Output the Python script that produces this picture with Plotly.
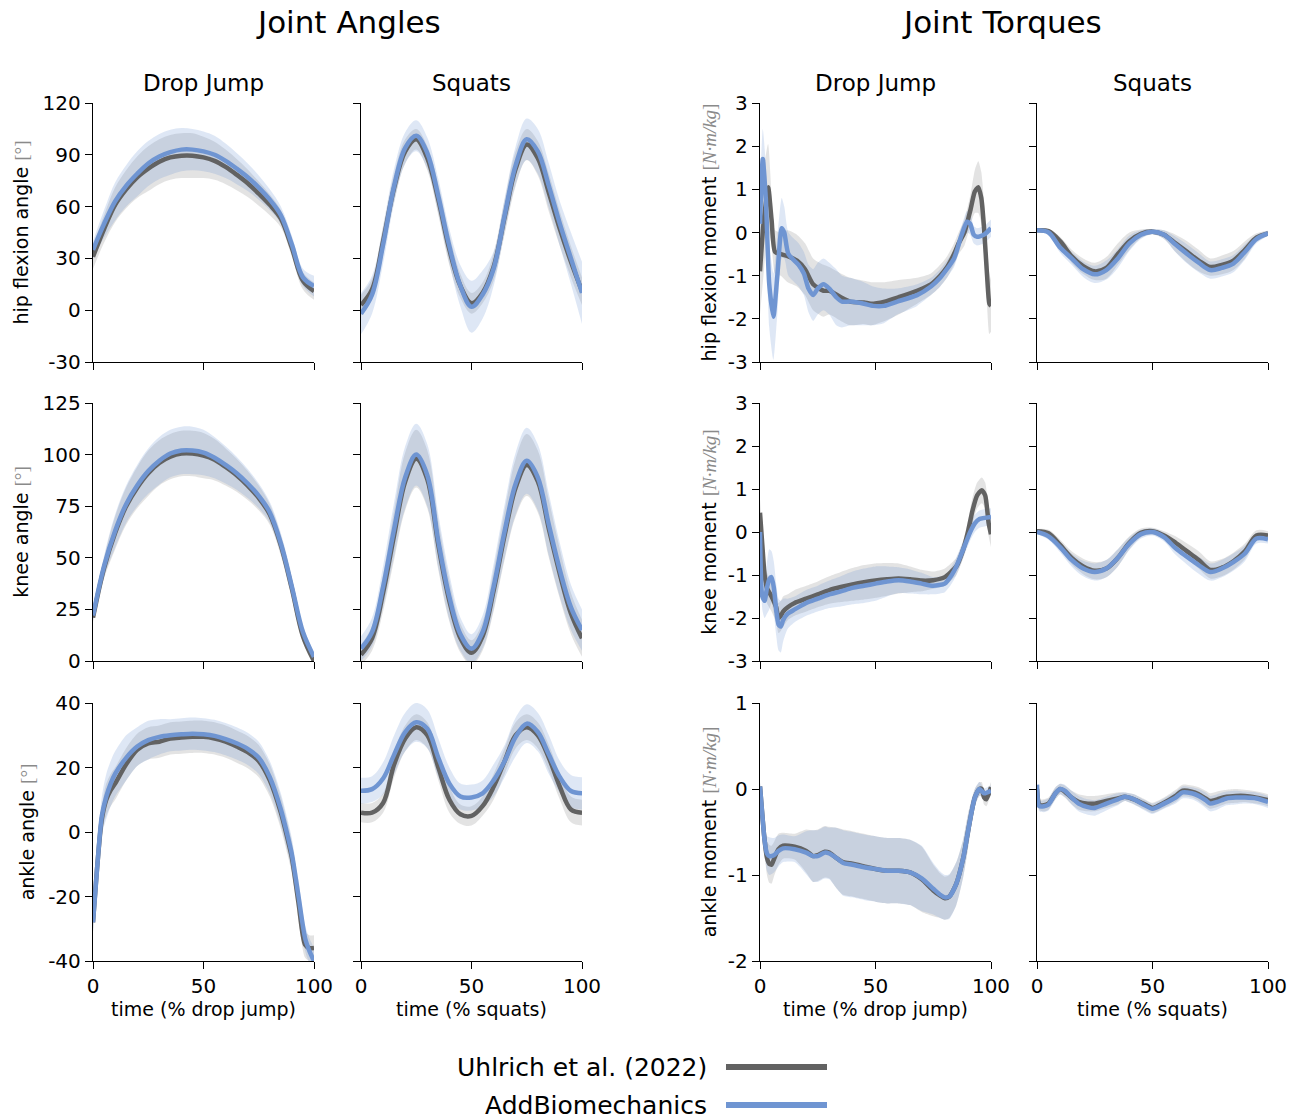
import plotly.graph_objects as go
from plotly.subplots import make_subplots

# ---------------- data ----------------
X5 = [0, 5, 10, 15, 20, 25, 30, 35, 40, 45, 50, 55, 60, 65, 70, 75, 80, 85, 90, 95, 100]

# Joint angles - hip flexion, drop jump
HIP_DJ_UHL = [31, 47, 61, 70, 77, 82, 86, 88.5, 89.5, 89.5, 88.5, 86.5, 83, 78.5, 73.5, 67.5, 61, 53, 36, 17, 11]
HIP_DJ_UHL_SD = [7, 8, 10, 11, 12, 13, 13, 13, 13, 13, 12, 11, 10, 9, 8, 7, 6, 5, 5, 5, 5]
HIP_DJ_ADD = [35, 50, 63, 72, 79, 85, 89, 91.5, 93, 93, 92, 90, 86.5, 82, 77, 71, 64, 55, 38, 19, 14]
HIP_DJ_ADD_SD = [5, 8, 11, 12, 13, 13, 13, 13, 12.5, 12, 11.5, 11, 10, 9, 8, 7, 6, 5, 5, 5, 6]

# hip flexion, squats
HIP_SQ_UHL = [3, 12, 40, 71, 92, 99, 88, 64, 35, 14, 4, 10, 25, 54, 82, 96, 88, 68, 47, 28, 11]
HIP_SQ_UHL_SD = [6, 6, 8, 8, 7, 6, 7, 9, 9, 7, 6, 6, 8, 10, 10, 9, 10, 11, 10, 9, 8]
HIP_SQ_ADD = [-2, 9, 38, 72, 94, 101, 91, 66, 37, 14, 2, 9, 24, 55, 84, 99, 92, 72, 50, 30, 10]
HIP_SQ_ADD_SD = [12, 11, 11, 10, 9, 9, 9, 10, 10, 12, 15, 14, 10, 10, 11, 12, 13, 13, 13, 15, 18]

# knee, drop jump
KNEE_DJ_UHL = [21, 45, 62, 75, 84, 91, 96, 99, 100.5, 100.5, 99.5, 97.5, 94, 90, 85, 79, 71, 56, 35, 12, 0]
KNEE_DJ_UHL_SD = [2, 5, 8, 9, 10, 11, 11, 11, 11, 11, 11, 10, 9, 8, 7, 6, 5, 5, 5, 3, 2]
KNEE_DJ_ADD = [22, 46, 63, 76, 85, 92, 97, 100.5, 102, 102, 101, 98.5, 95, 91, 86, 80, 72, 57, 36, 14, 2]
KNEE_DJ_ADD_SD = [2, 5, 8, 9, 10, 11, 11.5, 11.5, 11.5, 11.5, 11, 10, 9, 8, 7, 6, 5, 5, 5, 3, 2]

# knee, squats
KNEE_SQ_UHL = [3, 11, 33, 61, 87, 98, 88, 56, 29, 11, 4, 12, 34, 61, 84, 95, 87, 64, 42, 23, 11]
KNEE_SQ_UHL_SD = [5, 6, 9, 12, 14, 14, 14, 12, 10, 7, 6, 7, 10, 12, 14, 15, 15, 14, 12, 10, 9]
KNEE_SQ_ADD = [6, 14, 36, 64, 89, 100, 90, 58, 31, 13, 6, 14, 36, 63, 86, 97, 89, 66, 44, 26, 15]
KNEE_SQ_ADD_SD = [6, 7, 10, 13, 15, 15, 15, 13, 11, 8, 7, 8, 11, 13, 15, 16, 16, 15, 13, 11, 10]

# ankle, drop jump
ANK_DJ_X = [0, 2, 4, 6, 8, 10, 15, 20, 25, 30, 35, 40, 45, 50, 55, 60, 65, 70, 75, 80, 85, 88, 90, 93, 96, 98, 100]
ANK_DJ_UHL = [-28, -10, 4, 10, 13, 15, 21, 25.5, 27.5, 28, 29, 29.3, 29.5, 29.5, 29, 28, 26.5, 24.8, 22, 16, 6, -2, -8, -22, -35, -36, -36]
ANK_DJ_UHL_SD = [3, 4, 4, 5, 5, 5, 5, 5, 5, 5, 5, 5, 5, 5, 5, 5, 5, 5, 5, 5, 5, 5, 5, 5, 4, 4, 4]
ANK_DJ_ADD = [-28, -10, 5, 11, 15, 18, 23, 26.5, 28.5, 29.5, 30, 30.3, 30.5, 30.3, 29.8, 28.8, 27.5, 25.8, 23, 17, 7, -1, -7, -20, -33, -37, -40]
ANK_DJ_ADD_SD = [3, 5, 6, 7, 7, 7, 7, 6, 6, 5.5, 5, 5, 5, 5, 5, 5, 5, 5, 5, 5, 5, 5, 5, 5, 4, 4, 4]

# ankle, squats
ANK_SQ_UHL = [6, 6, 9, 21, 29, 32.5, 30, 20, 10, 5.5, 5, 8, 14, 22, 30, 32.5, 30, 23, 14, 7, 6]
ANK_SQ_UHL_SD = [3, 3, 3, 4, 4, 4, 4, 4, 4, 3, 3, 3, 4, 4, 4, 4, 4, 4, 4, 4, 4]
ANK_SQ_ADD = [12.8, 13.3, 16.6, 24, 31, 34, 32, 23, 15, 11, 10.7, 12, 16, 22, 29.5, 33.6, 31, 24, 17, 12.7, 12]
ANK_SQ_ADD_SD = [4, 4, 5, 6, 6, 6, 6, 6, 5, 4, 4, 4, 5, 5, 6, 6, 6, 6, 5, 5, 5]

# Joint torques - hip flexion moment, drop jump
HIPM_DJ_UHL_X = [0, 1.5, 3.5, 5, 6.5, 9, 12, 16, 19.5, 23, 27.5, 30, 35, 39, 45, 48, 54, 60, 68, 74, 78, 81, 84, 86, 88.5, 91, 93, 94.5, 95.8, 97, 98.3, 99.3, 100]
HIPM_DJ_UHL = [-0.9, 0.2, 1.05, 0.3, -0.45, -0.5, -0.55, -0.65, -0.85, -1.2, -1.35, -1.35, -1.5, -1.6, -1.62, -1.65, -1.6, -1.5, -1.35, -1.2, -1.0, -0.8, -0.5, -0.25, 0.0, 0.5, 0.95, 1.05, 0.8, 0.1, -1.0, -1.65, -1.7]
HIPM_DJ_UHL_SD = [1.0, 1.2, 1.0, 0.6, 0.5, 0.5, 0.6, 0.6, 0.6, 0.6, 0.6, 0.55, 0.55, 0.55, 0.5, 0.5, 0.45, 0.4, 0.3, 0.25, 0.25, 0.25, 0.25, 0.25, 0.3, 0.35, 0.5, 0.6, 0.6, 0.6, 0.7, 0.7, 0.6]
HIPM_DJ_ADD_X = [0, 1.2, 2.5, 4, 5.8, 7.5, 9.4, 10.5, 12.3, 16.7, 19, 21, 23, 25, 27.5, 30, 33, 35.5, 39, 45, 49, 53.6, 59.4, 68, 74, 78, 84, 87, 89.6, 91, 92.5, 94, 97, 100]
HIPM_DJ_ADD = [0.2, 1.7, 0.8, -1.2, -1.95, -1.0, 0.1, 0.0, -0.5, -0.75, -0.95, -1.3, -1.45, -1.3, -1.2, -1.3, -1.5, -1.6, -1.6, -1.65, -1.7, -1.7, -1.6, -1.45, -1.25, -1.05, -0.6, -0.1, 0.25, 0.2, -0.05, -0.1, -0.05, 0.1]
HIPM_DJ_ADD_SD = [0.8, 0.7, 0.8, 1.0, 1.0, 0.9, 0.7, 0.6, 0.5, 0.5, 0.5, 0.55, 0.6, 0.6, 0.6, 0.6, 0.65, 0.6, 0.55, 0.5, 0.45, 0.4, 0.3, 0.25, 0.2, 0.2, 0.2, 0.2, 0.25, 0.25, 0.2, 0.2, 0.2, 0.2]

# hip flexion moment, squats
HIPM_SQ_UHL = [0.05, 0.03, -0.2, -0.55, -0.78, -0.9, -0.82, -0.5, -0.2, -0.03, 0.02, -0.05, -0.25, -0.45, -0.65, -0.8, -0.75, -0.65, -0.4, -0.12, -0.02]
HIPM_SQ_UHL_SD = [0.03, 0.05, 0.1, 0.15, 0.18, 0.2, 0.25, 0.25, 0.2, 0.1, 0.06, 0.1, 0.2, 0.25, 0.25, 0.2, 0.22, 0.22, 0.2, 0.1, 0.06]
HIPM_SQ_ADD = [0.05, 0.0, -0.35, -0.6, -0.85, -0.97, -0.87, -0.6, -0.25, -0.05, 0.02, -0.05, -0.28, -0.5, -0.7, -0.87, -0.82, -0.72, -0.45, -0.15, -0.02]
HIPM_SQ_ADD_SD = [0.03, 0.05, 0.12, 0.15, 0.18, 0.2, 0.22, 0.22, 0.18, 0.1, 0.06, 0.1, 0.18, 0.22, 0.22, 0.2, 0.2, 0.2, 0.18, 0.1, 0.06]

# knee moment, drop jump
KNEEM_DJ_UHL_X = [0, 1, 2, 3, 5, 7, 8, 9, 10, 12, 15, 20, 25, 30, 35, 40, 45, 50, 55, 60, 65, 70, 75, 80, 85, 88, 90, 92, 94, 96, 97.5, 99, 100]
KNEEM_DJ_UHL = [0.45, -0.3, -1.0, -1.3, -1.5, -1.75, -2.0, -1.95, -1.85, -1.75, -1.65, -1.55, -1.45, -1.35, -1.28, -1.22, -1.17, -1.13, -1.1, -1.08, -1.1, -1.13, -1.12, -1.05, -0.8, -0.4, 0.0, 0.5, 0.85, 0.97, 0.85, 0.2, -0.05]
KNEEM_DJ_UHL_SD = [0.3, 0.35, 0.35, 0.35, 0.35, 0.35, 0.35, 0.35, 0.35, 0.3, 0.3, 0.3, 0.3, 0.32, 0.35, 0.38, 0.4, 0.4, 0.38, 0.35, 0.3, 0.25, 0.2, 0.2, 0.2, 0.2, 0.25, 0.3, 0.3, 0.3, 0.3, 0.3, 0.3]
KNEEM_DJ_ADD_X = [0, 1, 2, 3, 4, 5, 6, 7, 8, 9, 10, 12, 15, 20, 25, 30, 35, 40, 45, 50, 55, 60, 65, 70, 75, 80, 83, 85, 88, 91, 93, 95, 100]
KNEEM_DJ_ADD = [0.0, -1.5, -1.6, -1.3, -1.1, -1.05, -1.3, -1.8, -2.15, -2.2, -2.05, -1.9, -1.8, -1.65, -1.55, -1.45, -1.38, -1.3, -1.25, -1.2, -1.15, -1.12, -1.15, -1.2, -1.25, -1.2, -1.0, -0.8, -0.4, 0.0, 0.2, 0.3, 0.35]
KNEEM_DJ_ADD_SD = [0.3, 0.3, 0.4, 0.6, 0.7, 0.6, 0.6, 0.6, 0.6, 0.6, 0.5, 0.35, 0.3, 0.3, 0.3, 0.32, 0.35, 0.38, 0.4, 0.4, 0.35, 0.3, 0.28, 0.25, 0.2, 0.2, 0.2, 0.2, 0.2, 0.2, 0.2, 0.2, 0.2]

# knee moment, squats
KNEEM_SQ_UHL = [0.02, -0.03, -0.3, -0.6, -0.8, -0.9, -0.85, -0.6, -0.25, -0.02, 0.02, -0.08, -0.25, -0.45, -0.65, -0.88, -0.83, -0.68, -0.45, -0.08, -0.08]
KNEEM_SQ_UHL_SD = [0.05, 0.08, 0.12, 0.15, 0.18, 0.2, 0.2, 0.2, 0.15, 0.1, 0.08, 0.1, 0.15, 0.18, 0.2, 0.2, 0.2, 0.2, 0.18, 0.12, 0.1]
KNEEM_SQ_ADD = [0.0, -0.1, -0.35, -0.65, -0.85, -0.93, -0.85, -0.6, -0.27, -0.05, 0.0, -0.12, -0.38, -0.58, -0.77, -0.93, -0.85, -0.7, -0.5, -0.15, -0.17]
KNEEM_SQ_ADD_SD = [0.05, 0.08, 0.12, 0.15, 0.18, 0.2, 0.2, 0.2, 0.15, 0.1, 0.08, 0.1, 0.15, 0.18, 0.2, 0.2, 0.2, 0.2, 0.18, 0.12, 0.1]

# ankle moment, drop jump
ANKM_DJ_UHL_X = [0, 1, 2, 3, 4, 5, 6, 8, 10, 15, 20, 23, 25, 28, 30, 33, 36, 40, 45, 50, 55, 60, 65, 70, 75, 78, 80, 82, 85, 88, 90, 93, 95, 96, 97, 98, 100]
ANKM_DJ_UHL = [0.03, -0.3, -0.6, -0.8, -0.87, -0.88, -0.82, -0.7, -0.66, -0.67, -0.72, -0.78, -0.77, -0.73, -0.74, -0.8, -0.85, -0.87, -0.9, -0.93, -0.95, -0.95, -0.97, -1.05, -1.18, -1.24, -1.27, -1.25, -1.1, -0.8, -0.5, -0.1, 0.0, 0.0, -0.1, -0.12, 0.02]
ANKM_DJ_UHL_SD = [0.05, 0.1, 0.15, 0.2, 0.22, 0.22, 0.2, 0.18, 0.15, 0.15, 0.25, 0.3, 0.3, 0.3, 0.3, 0.35, 0.38, 0.38, 0.38, 0.38, 0.38, 0.38, 0.38, 0.38, 0.3, 0.26, 0.25, 0.25, 0.25, 0.22, 0.2, 0.1, 0.08, 0.08, 0.08, 0.08, 0.06]
ANKM_DJ_ADD_X = [0, 1, 2, 3, 4, 6, 8, 10, 15, 20, 23, 25, 28, 30, 33, 36, 40, 45, 50, 55, 60, 65, 70, 75, 78, 80, 82, 85, 88, 90, 93, 95, 97, 100]
ANKM_DJ_ADD = [0.03, -0.3, -0.6, -0.75, -0.78, -0.77, -0.72, -0.69, -0.7, -0.74, -0.78, -0.78, -0.74, -0.75, -0.8, -0.86, -0.88, -0.91, -0.93, -0.95, -0.95, -0.97, -1.04, -1.16, -1.23, -1.26, -1.25, -1.1, -0.8, -0.5, -0.1, 0.0, -0.05, -0.02]
ANKM_DJ_ADD_SD = [0.05, 0.1, 0.15, 0.2, 0.22, 0.2, 0.18, 0.16, 0.15, 0.25, 0.3, 0.3, 0.3, 0.3, 0.35, 0.38, 0.38, 0.38, 0.38, 0.38, 0.38, 0.38, 0.38, 0.3, 0.27, 0.26, 0.26, 0.25, 0.22, 0.2, 0.1, 0.08, 0.06, 0.06]

# ankle moment, squats
ANKM_SQ_X = [0, 1, 3, 5, 8, 10, 12, 15, 18, 22, 25, 30, 35, 38, 42, 46, 50, 55, 60, 63, 67, 70, 73, 75, 78, 82, 86, 90, 95, 100]
ANKM_SQ_UHL = [0.0, -0.18, -0.19, -0.17, -0.05, 0.0, -0.03, -0.1, -0.15, -0.17, -0.17, -0.14, -0.11, -0.09, -0.12, -0.17, -0.22, -0.16, -0.08, -0.02, -0.03, -0.06, -0.11, -0.14, -0.12, -0.09, -0.08, -0.08, -0.1, -0.13]
ANKM_SQ_UHL_SD = [0.04, 0.06, 0.07, 0.07, 0.07, 0.06, 0.07, 0.08, 0.09, 0.09, 0.09, 0.08, 0.07, 0.05, 0.06, 0.06, 0.06, 0.06, 0.07, 0.07, 0.07, 0.08, 0.09, 0.09, 0.09, 0.08, 0.08, 0.07, 0.07, 0.07]
ANKM_SQ_ADD = [0.05, -0.2, -0.2, -0.18, -0.05, 0.0, -0.02, -0.1, -0.17, -0.21, -0.22, -0.17, -0.12, -0.09, -0.12, -0.18, -0.23, -0.17, -0.1, -0.04, -0.05, -0.08, -0.13, -0.17, -0.15, -0.11, -0.1, -0.1, -0.11, -0.15]
ANKM_SQ_ADD_SD = [0.04, 0.06, 0.07, 0.07, 0.07, 0.06, 0.07, 0.08, 0.09, 0.09, 0.09, 0.08, 0.07, 0.05, 0.06, 0.06, 0.06, 0.06, 0.07, 0.07, 0.07, 0.08, 0.09, 0.09, 0.09, 0.08, 0.08, 0.07, 0.07, 0.07]

SERIES_NAMES = ["Uhlrich et al. (2022)", "AddBiomechanics"]

ANGLE_TICKS = [[-30, 0, 30, 60, 90, 120], [0, 25, 50, 75, 100, 125], [-40, -20, 0, 20, 40]]
TORQUE_TICKS = [[-3, -2, -1, 0, 1, 2, 3], [-3, -2, -1, 0, 1, 2, 3], [-2, -1, 0, 1]]
X_TICKS = [0, 50, 100]

# ---------------- style ----------------
GRAY = "#626262"
BLUE = "#6f95d2"
GRAY_FILL = "rgba(128,128,128,0.22)"
BLUE_FILL = "rgba(100,140,210,0.21)"
FONT = "DejaVu Sans"
UNIT = "<span style='color:#8a8a8a;font-family:Liberation Serif'>"

W, H = 1303, 1120
COLS_PX = [(93, 314), (361, 582), (760, 991), (1037, 1268)]
ROWS_PX = [(103, 362), (403, 661), (703, 961)]


def px_x(p):
    return p / W


def px_y(p):
    return 1 - p / H


panels = [
    # row, col, uhl_x, uhl, uhl_sd, add_x, add, add_sd, smoothing
    (1, 1, X5, HIP_DJ_UHL, HIP_DJ_UHL_SD, X5, HIP_DJ_ADD, HIP_DJ_ADD_SD, 1.0),
    (1, 2, X5, HIP_SQ_UHL, HIP_SQ_UHL_SD, X5, HIP_SQ_ADD, HIP_SQ_ADD_SD, 1.0),
    (2, 1, X5, KNEE_DJ_UHL, KNEE_DJ_UHL_SD, X5, KNEE_DJ_ADD, KNEE_DJ_ADD_SD, 1.0),
    (2, 2, X5, KNEE_SQ_UHL, KNEE_SQ_UHL_SD, X5, KNEE_SQ_ADD, KNEE_SQ_ADD_SD, 1.0),
    (3, 1, ANK_DJ_X, ANK_DJ_UHL, ANK_DJ_UHL_SD, ANK_DJ_X, ANK_DJ_ADD, ANK_DJ_ADD_SD, 0.8),
    (3, 2, X5, ANK_SQ_UHL, ANK_SQ_UHL_SD, X5, ANK_SQ_ADD, ANK_SQ_ADD_SD, 1.0),
    (1, 3, HIPM_DJ_UHL_X, HIPM_DJ_UHL, HIPM_DJ_UHL_SD, HIPM_DJ_ADD_X, HIPM_DJ_ADD, HIPM_DJ_ADD_SD, 0.6),
    (1, 4, X5, HIPM_SQ_UHL, HIPM_SQ_UHL_SD, X5, HIPM_SQ_ADD, HIPM_SQ_ADD_SD, 0.9),
    (2, 3, KNEEM_DJ_UHL_X, KNEEM_DJ_UHL, KNEEM_DJ_UHL_SD, KNEEM_DJ_ADD_X, KNEEM_DJ_ADD, KNEEM_DJ_ADD_SD, 0.6),
    (2, 4, X5, KNEEM_SQ_UHL, KNEEM_SQ_UHL_SD, X5, KNEEM_SQ_ADD, KNEEM_SQ_ADD_SD, 0.9),
    (3, 3, ANKM_DJ_UHL_X, ANKM_DJ_UHL, ANKM_DJ_UHL_SD, ANKM_DJ_ADD_X, ANKM_DJ_ADD, ANKM_DJ_ADD_SD, 0.6),
    (3, 4, ANKM_SQ_X, ANKM_SQ_UHL, ANKM_SQ_UHL_SD, ANKM_SQ_X, ANKM_SQ_ADD, ANKM_SQ_ADD_SD, 0.6),
]

fig = make_subplots(rows=3, cols=4)


def band(x, m, s, color, r, c, sm):
    up = [a + b for a, b in zip(m, s)]
    lo = [a - b for a, b in zip(m, s)]
    fig.add_trace(go.Scatter(x=x, y=up, mode="lines", line=dict(width=0, shape="spline", smoothing=sm),
                             hoverinfo="skip", showlegend=False), row=r, col=c)
    fig.add_trace(go.Scatter(x=x, y=lo, mode="lines", line=dict(width=0, shape="spline", smoothing=sm),
                             fill="tonexty", fillcolor=color, hoverinfo="skip", showlegend=False), row=r, col=c)


for (r, c, ux, u, us, ax, a, asd, sm) in panels:
    band(ux, u, us, GRAY_FILL, r, c, sm)
    band(ax, a, asd, BLUE_FILL, r, c, sm)
    fig.add_trace(go.Scatter(x=ux, y=u, mode="lines", name=SERIES_NAMES[0],
                             line=dict(color=GRAY, width=4.5, shape="spline", smoothing=sm),
                             showlegend=False), row=r, col=c)
    fig.add_trace(go.Scatter(x=ax, y=a, mode="lines", name=SERIES_NAMES[1],
                             line=dict(color=BLUE, width=4.5, shape="spline", smoothing=sm),
                             showlegend=False), row=r, col=c)


def fmt(v):
    return str(v).replace("\u2212", "-")


ytitles = {
    (1, 1): "hip flexion angle " + UNIT + "[°]</span>",
    (2, 1): "knee angle " + UNIT + "[°]</span>",
    (3, 1): "ankle angle " + UNIT + "[°]</span>",
    (1, 3): "hip flexion moment " + UNIT + "[<i>N·m/kg</i>]</span>",
    (2, 3): "knee moment " + UNIT + "[<i>N·m/kg</i>]</span>",
    (3, 3): "ankle moment " + UNIT + "[<i>N·m/kg</i>]</span>",
}
xtitles = {1: "time (% drop jump)", 2: "time (% squats)", 3: "time (% drop jump)", 4: "time (% squats)"}

axis_common = dict(showgrid=False, zeroline=False, showline=True, linecolor="black", linewidth=1.4,
                   ticks="outside", ticklen=7, tickwidth=1.4, tickcolor="black", automargin=False,
                   tickfont=dict(family=FONT, size=20, color="black"))

for r in range(1, 4):
    for c in range(1, 5):
        x0, x1 = COLS_PX[c - 1]
        y0, y1 = ROWS_PX[r - 1]
        ticks = ANGLE_TICKS[r - 1] if c <= 2 else TORQUE_TICKS[r - 1]
        fig.update_xaxes(row=r, col=c, domain=[px_x(x0), px_x(x1)], range=[0, 100],
                         tickvals=X_TICKS, ticktext=[fmt(v) for v in X_TICKS],
                         showticklabels=(r == 3),
                         title=dict(text=xtitles[c] if r == 3 else "", standoff=4,
                                    font=dict(family=FONT, size=19, color="black")),
                         **axis_common)
        fig.update_yaxes(row=r, col=c, domain=[px_y(y1), px_y(y0)], range=[ticks[0], ticks[-1]],
                         tickvals=ticks, ticktext=[fmt(v) for v in ticks],
                         showticklabels=(c in (1, 3)),
                         title=dict(text=ytitles.get((r, c), ""), standoff=8 if c == 1 else 6,
                                    font=dict(family=FONT, size=19, color="black")),
                         **axis_common)

annotations = [
    dict(text="Joint Angles", x=px_x(348), y=px_y(22), font=dict(size=31)),
    dict(text="Joint Torques", x=px_x(1002), y=px_y(22), font=dict(size=31)),
    dict(text="Drop Jump", x=px_x(203), y=px_y(83), font=dict(size=23)),
    dict(text="Squats", x=px_x(471), y=px_y(83), font=dict(size=23)),
    dict(text="Drop Jump", x=px_x(875), y=px_y(83), font=dict(size=23)),
    dict(text="Squats", x=px_x(1152), y=px_y(83), font=dict(size=23)),
]
for a in annotations:
    a.update(xref="paper", yref="paper", showarrow=False, xanchor="center", yanchor="middle")
    a["font"].update(family=FONT, color="black")

# legend (text right, line swatch to the right)
legend_rows = [(SERIES_NAMES[0], GRAY, 1067), (SERIES_NAMES[1], BLUE, 1105)]
shapes = []
for name, col, ypx in legend_rows:
    annotations.append(dict(text=name, x=px_x(709), y=px_y(ypx), xref="paper", yref="paper",
                            showarrow=False, xanchor="right", yanchor="middle",
                            font=dict(family=FONT, size=25, color="black")))
    shapes.append(dict(type="line", xref="paper", yref="paper", x0=px_x(726), x1=px_x(827),
                       y0=px_y(ypx), y1=px_y(ypx), line=dict(color=col, width=6)))

fig.update_layout(template="none", width=W, height=H, margin=dict(l=0, r=0, t=0, b=0, autoexpand=False),
                  paper_bgcolor="white", plot_bgcolor="white",
                  annotations=annotations, shapes=shapes, showlegend=False,
                  font=dict(family=FONT, color="black"))

fig.write_html("out.html", config={"displayModeBar": False},
               post_script="document.body.style.margin='0';document.body.style.overflow='hidden';")
